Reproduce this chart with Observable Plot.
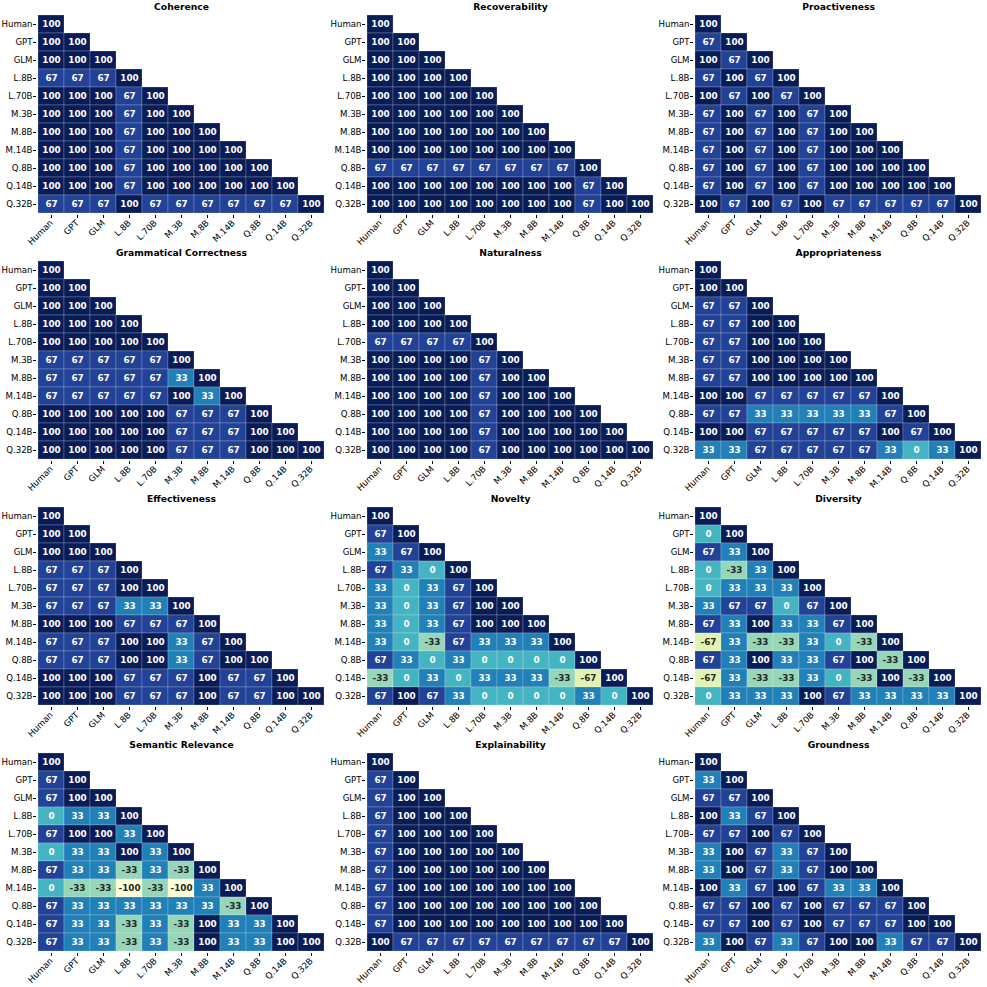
<!DOCTYPE html>
<html>
<head>
<meta charset="utf-8">
<script src="https://cdn.jsdelivr.net/npm/d3@7"></script>
<script src="https://cdn.jsdelivr.net/npm/@observablehq/plot@0.6"></script>
<style>
  html, body { margin: 0; padding: 0; background: #fff; }
  #root { position: relative; width: 987px; height: 987px; font-family: "DejaVu Sans", sans-serif; }
  .panel { position: absolute; }
</style>
</head>
<body>
<div id="root"></div>
<script>
const models = ["Human","GPT","GLM","L.8B","L.70B","M.3B","M.8B","M.14B","Q.8B","Q.14B","Q.32B"];

const titles = ["Coherence","Recoverability","Proactiveness","Grammatical Correctness","Naturalness","Appropriateness","Effectiveness","Novelty","Diversity","Semantic Relevance","Explainability","Groundness"];

const coherence = [
  [100],
  [100,100],
  [100,100,100],
  [67,67,67,100],
  [100,100,100,67,100],
  [100,100,100,67,100,100],
  [100,100,100,67,100,100,100],
  [100,100,100,67,100,100,100,100],
  [100,100,100,67,100,100,100,100,100],
  [100,100,100,67,100,100,100,100,100,100],
  [67,67,67,100,67,67,67,67,67,67,100]
];
const recoverability = [
  [100],
  [100,100],
  [100,100,100],
  [100,100,100,100],
  [100,100,100,100,100],
  [100,100,100,100,100,100],
  [100,100,100,100,100,100,100],
  [100,100,100,100,100,100,100,100],
  [67,67,67,67,67,67,67,67,100],
  [100,100,100,100,100,100,100,100,67,100],
  [100,100,100,100,100,100,100,100,67,100,100]
];
const proactiveness = [
  [100],
  [67,100],
  [100,67,100],
  [67,100,67,100],
  [100,67,100,67,100],
  [67,100,67,100,67,100],
  [67,100,67,100,67,100,100],
  [67,100,67,100,67,100,100,100],
  [67,100,67,100,67,100,100,100,100],
  [67,100,67,100,67,100,100,100,100,100],
  [100,67,100,67,100,67,67,67,67,67,100]
];
const grammatical = [
  [100],
  [100,100],
  [100,100,100],
  [100,100,100,100],
  [100,100,100,100,100],
  [67,67,67,67,67,100],
  [67,67,67,67,67,33,100],
  [67,67,67,67,67,100,33,100],
  [100,100,100,100,100,67,67,67,100],
  [100,100,100,100,100,67,67,67,100,100],
  [100,100,100,100,100,67,67,67,100,100,100]
];
const naturalness = [
  [100],
  [100,100],
  [100,100,100],
  [100,100,100,100],
  [67,67,67,67,100],
  [100,100,100,100,67,100],
  [100,100,100,100,67,100,100],
  [100,100,100,100,67,100,100,100],
  [100,100,100,100,67,100,100,100,100],
  [100,100,100,100,67,100,100,100,100,100],
  [100,100,100,100,67,100,100,100,100,100,100]
];
const appropriateness = [
  [100],
  [100,100],
  [67,67,100],
  [67,67,100,100],
  [67,67,100,100,100],
  [67,67,100,100,100,100],
  [67,67,100,100,100,100,100],
  [100,100,67,67,67,67,67,100],
  [67,67,33,33,33,33,33,67,100],
  [100,100,67,67,67,67,67,100,67,100],
  [33,33,67,67,67,67,67,33,0,33,100]
];
const effectiveness = [
  [100],
  [100,100],
  [100,100,100],
  [67,67,67,100],
  [67,67,67,100,100],
  [67,67,67,33,33,100],
  [100,100,100,67,67,67,100],
  [67,67,67,100,100,33,67,100],
  [67,67,67,100,100,33,67,100,100],
  [100,100,100,67,67,67,100,67,67,100],
  [100,100,100,67,67,67,100,67,67,100,100]
];
const novelty = [
  [100],
  [67,100],
  [33,67,100],
  [67,33,0,100],
  [33,0,33,67,100],
  [33,0,33,67,100,100],
  [33,0,33,67,100,100,100],
  [33,0,-33,67,33,33,33,100],
  [67,33,0,33,0,0,0,0,100],
  [-33,0,33,0,33,33,33,-33,-67,100],
  [67,100,67,33,0,0,0,0,33,0,100]
];
const diversity = [
  [100],
  [0,100],
  [67,33,100],
  [0,-33,33,100],
  [0,33,33,33,100],
  [33,67,67,0,67,100],
  [67,33,100,33,33,67,100],
  [-67,33,-33,-33,33,0,-33,100],
  [67,33,100,33,33,67,100,-33,100],
  [-67,33,-33,-33,33,0,-33,100,-33,100],
  [0,33,33,33,100,67,33,33,33,33,100]
];
const semantic = [
  [100],
  [67,100],
  [67,100,100],
  [0,33,33,100],
  [67,100,100,33,100],
  [0,33,33,100,33,100],
  [67,33,33,-33,33,-33,100],
  [0,-33,-33,-100,-33,-100,33,100],
  [67,33,33,33,33,33,33,-33,100],
  [67,33,33,-33,33,-33,100,33,33,100],
  [67,33,33,-33,33,-33,100,33,33,100,100]
];
const explainability = [
  [100],
  [67,100],
  [67,100,100],
  [67,100,100,100],
  [67,100,100,100,100],
  [67,100,100,100,100,100],
  [67,100,100,100,100,100,100],
  [67,100,100,100,100,100,100,100],
  [67,100,100,100,100,100,100,100,100],
  [67,100,100,100,100,100,100,100,100,100],
  [100,67,67,67,67,67,67,67,67,67,100]
];
const groundness = [
  [100],
  [33,100],
  [67,67,100],
  [100,33,67,100],
  [67,67,100,67,100],
  [33,100,67,33,67,100],
  [33,100,67,33,67,100,100],
  [100,33,67,100,67,33,33,100],
  [67,67,100,67,100,67,67,67,100],
  [67,67,100,67,100,67,67,67,100,100],
  [33,100,67,33,67,100,100,33,67,67,100]
];

const matrices = [coherence, recoverability, proactiveness, grammatical, naturalness, appropriateness,
                  effectiveness, novelty, diversity, semantic, explainability, groundness];

const root = document.getElementById("root");
const colLeft = [0, 329, 657];
const rowTop = [0, 246, 492, 738];

matrices.forEach((m, i) => {
  const data = [];
  m.forEach((row, r) => row.forEach((v, c) => data.push({row: models[r], col: models[c], value: v})));
  const plot = Plot.plot({
    width: 328,
    height: 246,
    marginLeft: 36,
    marginRight: 2,
    marginTop: 13,
    marginBottom: 31,
    style: {fontFamily: "'DejaVu Sans', sans-serif", fontSize: "8.6px", color: "#000", background: "transparent", overflow: "visible"},
    x: {domain: models, padding: 0, tickRotate: -45, tickSize: 3, tickPadding: 3, label: null},
    y: {domain: models, padding: 0, tickSize: 3, tickPadding: 1, label: null},
    color: {type: "linear", scheme: "ylgnbu", domain: [-100, 100]},
    marks: [
      Plot.cell(data, {x: "col", y: "row", fill: "value", inset: 0, stroke: "white", strokeOpacity: 0.25, strokeWidth: 0.8}),
      Plot.text(data.filter(d => d.value >= 0), {x: "col", y: "row", text: d => String(d.value), fill: "white", fontWeight: "bold", fontSize: 8.8}),
      Plot.text(data.filter(d => d.value < 0), {x: "col", y: "row", text: d => String(d.value), fill: "#262626", fontWeight: "bold", fontSize: 8.8}),
      Plot.text([titles[i]], {text: d => d, frameAnchor: "top", lineAnchor: "middle", dy: -6, fontWeight: "bold", fontSize: 9.2, fill: "#000"})
    ]
  });
  const div = document.createElement("div");
  div.className = "panel";
  div.style.left = colLeft[i % 3] + "px";
  div.style.top = rowTop[Math.floor(i / 3)] + "px";
  div.appendChild(plot);
  root.appendChild(div);
});
</script>
</body>
</html>
